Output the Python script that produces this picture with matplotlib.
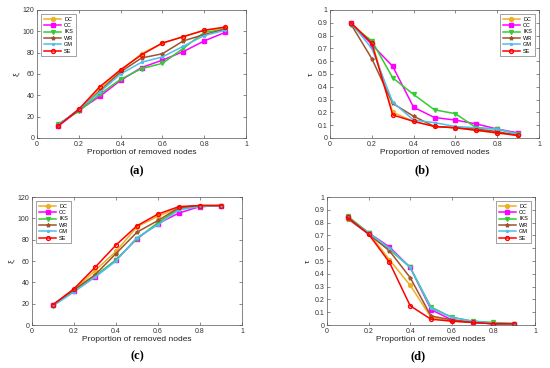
import matplotlib
matplotlib.use("Agg")
import matplotlib.pyplot as plt

plt.rcParams["font.family"] = ["Liberation Sans", "DejaVu Sans"]

x = [0.1, 0.2, 0.3, 0.4, 0.5, 0.6, 0.7, 0.8, 0.9]
methods = ["DC", "CC", "IKS", "WR", "GM", "SE"]

# panel (a): xi
a_dc = [12, 26, 46, 63, 79, 89, 95, 101, 103]
a_cc = [11, 26, 39, 54, 66, 73, 81, 91, 99]
a_iks = [13, 25, 41, 55, 65, 70, 84, 99, 102]
a_wr = [12, 26, 44, 62, 75, 79, 91, 97, 102]
a_gm = [12, 27, 43, 60, 71, 76, 86, 96, 101]
a_se = [11, 27, 48, 64, 78, 89, 95, 101, 104]

# panel (b): tau
b_dc = [0.90, 0.75, 0.20, 0.13, 0.09, 0.08, 0.06, 0.04, 0.02]
b_cc = [0.90, 0.73, 0.56, 0.24, 0.16, 0.14, 0.11, 0.07, 0.04]
b_iks = [0.88, 0.76, 0.47, 0.34, 0.22, 0.19, 0.08, 0.07, 0.03]
b_wr = [0.89, 0.62, 0.27, 0.17, 0.09, 0.08, 0.07, 0.05, 0.02]
b_gm = [0.90, 0.70, 0.28, 0.14, 0.12, 0.09, 0.08, 0.07, 0.03]
b_se = [0.90, 0.74, 0.18, 0.13, 0.09, 0.08, 0.06, 0.04, 0.02]

# panel (c): xi
c_dc = [19, 33, 51, 69, 92, 102, 110, 112, 112]
c_cc = [19, 32, 45, 61, 81, 95, 105, 111, 112]
c_iks = [18, 32, 46, 61, 81, 96, 109, 111, 112]
c_wr = [19, 33, 47, 67, 87, 98, 110, 112, 112]
c_gm = [18, 31, 45, 60, 82, 94, 108, 111, 112]
c_se = [19, 34, 54, 75, 93, 104, 111, 112, 112]

# panel (d): tau
d_dc = [0.83, 0.72, 0.51, 0.31, 0.06, 0.03, 0.02, 0.01, 0.01]
d_cc = [0.84, 0.72, 0.61, 0.45, 0.12, 0.04, 0.02, 0.01, 0.01]
d_iks = [0.85, 0.72, 0.59, 0.45, 0.14, 0.06, 0.03, 0.02, 0.01]
d_wr = [0.83, 0.71, 0.58, 0.37, 0.07, 0.04, 0.02, 0.01, 0.01]
d_gm = [0.84, 0.72, 0.60, 0.45, 0.13, 0.06, 0.03, 0.015, 0.01]
d_se = [0.84, 0.71, 0.49, 0.15, 0.045, 0.03, 0.02, 0.01, 0.01]

styles = {
    "DC": dict(color="#EDB120", marker="o", mfc="#EDB120"),
    "CC": dict(color="#FF00FF", marker="s", mfc="#FF00FF"),
    "IKS": dict(color="#33CC33", marker="v", mfc="#33CC33"),
    "WR": dict(color="#A0522D", marker="*", mfc="#A0522D"),
    "GM": dict(color="#4DBEEE", marker=".", mfc="#4DBEEE"),
    "SE": dict(color="#FF0000", marker="o", mfc="none"),
}

W, H = 550, 368
fig = plt.figure(figsize=(5.5, 3.68), dpi=100)


def add_axes(l, r, t, b):
    return fig.add_axes([l / W, 1 - b / H, (r - l) / W, (b - t) / H])


def draw(ax, series, ylabel, ylim, yticks, loc):
    for name, ys in zip(methods, series):
        st = styles[name]
        ax.plot(x, ys, color=st["color"], marker=st["marker"], mfc=st["mfc"],
                mec=st["color"], markersize=2.8, linewidth=1.1, label=name)
    ax.set_xlim(0, 1)
    ax.set_ylim(*ylim)
    ax.set_xticks([0, 0.2, 0.4, 0.6, 0.8, 1])
    ax.set_xticklabels(["0", "0.2", "0.4", "0.6", "0.8", "1"])
    ax.set_yticks(yticks)
    ax.set_yticklabels([f"{t:g}" for t in yticks])
    ax.tick_params(direction="in", labelsize=5, length=2, width=0.4,
                   top=True, right=True, colors="#333333", pad=2)
    for sp in ax.spines.values():
        sp.set_linewidth(0.5)
        sp.set_color("#555555")
    ax.set_xlabel("Proportion of removed nodes", fontsize=6, labelpad=1, color="#222222")
    ax.set_ylabel(ylabel, fontsize=6, labelpad=2, color="#222222")
    leg = ax.legend(loc=loc, fontsize=4, handlelength=3.2, frameon=True,
                    fancybox=False, borderpad=0.4, labelspacing=0.25,
                    handletextpad=0.5, borderaxespad=0.8)
    leg.get_frame().set_linewidth(0.4)
    leg.get_frame().set_edgecolor("#333333")


def caption(text, cx, cy):
    fig.text(cx / W, 1 - cy / H, text, ha="center", va="center", fontsize=9,
             fontweight="bold", family=["Liberation Serif", "DejaVu Serif"])


ax_a = add_axes(37, 246, 10, 138)
ax_b = add_axes(330, 539, 10, 138)
ax_c = add_axes(32, 242, 197, 325)
ax_d = add_axes(327, 535, 197, 325)

draw(ax_a, [a_dc, a_cc, a_iks, a_wr, a_gm, a_se], "ξ", (0, 120),
     [0, 20, 40, 60, 80, 100, 120], "upper left")
draw(ax_b, [b_dc, b_cc, b_iks, b_wr, b_gm, b_se], "τ", (0, 1),
     [0, 0.1, 0.2, 0.3, 0.4, 0.5, 0.6, 0.7, 0.8, 0.9, 1], "upper right")
draw(ax_c, [c_dc, c_cc, c_iks, c_wr, c_gm, c_se], "ξ", (0, 120),
     [0, 20, 40, 60, 80, 100, 120], "upper left")
draw(ax_d, [d_dc, d_cc, d_iks, d_wr, d_gm, d_se], "τ", (0, 1),
     [0, 0.1, 0.2, 0.3, 0.4, 0.5, 0.6, 0.7, 0.8, 0.9, 1], "upper right")

caption("(a)", 137, 171)
caption("(b)", 422, 170)
caption("(c)", 137, 356)
caption("(d)", 418, 356)

fig.savefig("out.png", dpi=100, facecolor="white")
